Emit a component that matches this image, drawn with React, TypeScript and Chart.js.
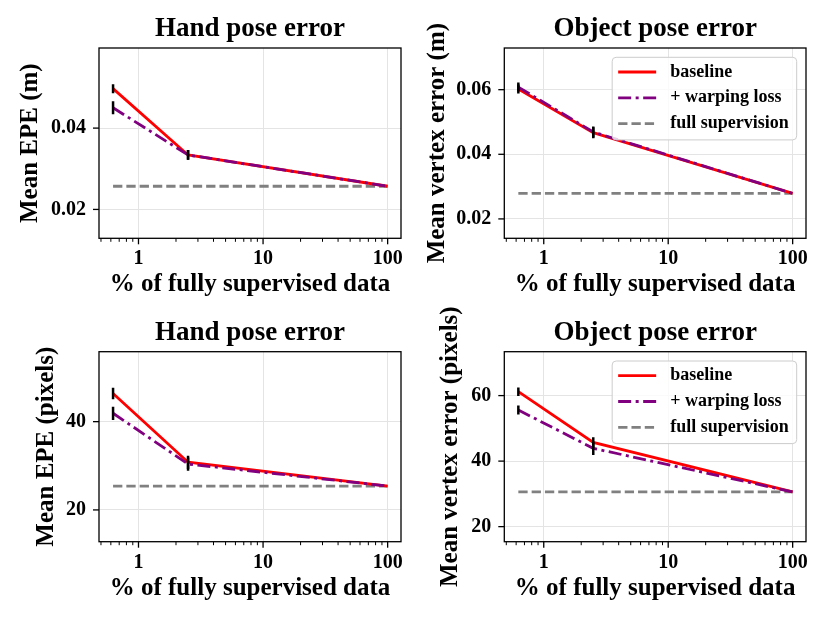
import { useEffect, useRef } from "react"
import { Chart, registerables } from "chart.js"

Chart.register(...registerables)

const FONT = '"Liberation Serif", "Times New Roman", serif'
Chart.defaults.font.family = FONT
Chart.defaults.font.weight = "bold"
Chart.defaults.color = "#000"

// x positions (% of fully supervised data) and log-axis ticks
const fractions = [0.625, 2.5, 100]
const fullRange = [0.625, 100]
const xMajorTicks = [1, 10, 100]
const xMinorTicks = [0.5, 0.6, 0.7, 0.8, 0.9, 2, 3, 4, 5, 6, 7, 8, 9, 20, 30, 40, 50, 60, 70, 80, 90]

// hand pose error (m)
const handMBaseline = [0.0497, 0.0334, 0.0257]
const handMWarping = [0.045, 0.0334, 0.0257]
const handMFull = 0.0257
const handMBaselineErr = [0.0011, 0.0012, 0]
const handMWarpingErr = [0.0016, 0.0012, 0]
const handMTicks = [0.02, 0.04]

// object pose error (m)
const objMBaseline = [0.0602, 0.0467, 0.0279]
const objMWarping = [0.0608, 0.0469, 0.0279]
const objMFull = 0.0279
const objMBaselineErr = [0.0014, 0.0017, 0]
const objMWarpingErr = [0.0014, 0.0017, 0]
const objMTicks = [0.02, 0.04, 0.06]

// hand pose error (pixels)
const handPxBaseline = [46.4, 30.8, 25.4]
const handPxWarping = [41.9, 30.4, 25.4]
const handPxFull = 25.4
const handPxBaselineErr = [1.3, 1.5, 0]
const handPxWarpingErr = [1.5, 1.5, 0]
const handPxTicks = [20, 40]

// object pose error (pixels)
const objPxBaseline = [61.2, 45.7, 30.6]
const objPxWarping = [55.6, 43.9, 30.6]
const objPxFull = 30.6
const objPxBaselineErr = [1.3, 1.6, 0]
const objPxWarpingErr = [1.4, 2.0, 0]
const objPxTicks = [20, 40, 60]

const X_MIN = 0.482
const X_MAX = 128

interface Panel {
  title: string
  yLabel: string
  baseline: number[]
  warping: number[]
  full: number
  baselineErr: number[]
  warpingErr: number[]
  yTicks: number[]
  yMin: number
  yMax: number
  decimals: number
  legend: boolean
  // canvas box and axes box, page coordinates
  left: number
  top: number
  width: number
  height: number
  area: { left: number; top: number; right: number; bottom: number }
  titleY: number
  yTitleX: number
}

const panels: Panel[] = [
  {
    title: "Hand pose error", yLabel: "Mean EPE (m)",
    baseline: handMBaseline, warping: handMWarping, full: handMFull,
    baselineErr: handMBaselineErr, warpingErr: handMWarpingErr,
    yTicks: handMTicks, yMin: 0.0129, yMax: 0.0597, decimals: 2, legend: false,
    left: 0, top: 0, width: 415, height: 305,
    area: { left: 99, top: 48, right: 401, bottom: 238.3 }, titleY: 29.3, yTitleX: 31,
  },
  {
    title: "Object pose error", yLabel: "Mean vertex error (m)",
    baseline: objMBaseline, warping: objMWarping, full: objMFull,
    baselineErr: objMBaselineErr, warpingErr: objMWarpingErr,
    yTicks: objMTicks, yMin: 0.014, yMax: 0.0729, decimals: 2, legend: true,
    left: 415, top: 0, width: 415, height: 305,
    area: { left: 504.3, top: 48, right: 806, bottom: 238.3 }, titleY: 29.3, yTitleX: 437.5,
  },
  {
    title: "Hand pose error", yLabel: "Mean EPE (pixels)",
    baseline: handPxBaseline, warping: handPxWarping, full: handPxFull,
    baselineErr: handPxBaselineErr, warpingErr: handPxWarpingErr,
    yTicks: handPxTicks, yMin: 12.8, yMax: 55.85, decimals: 0, legend: false,
    left: 0, top: 290, width: 415, height: 333,
    area: { left: 99, top: 351.7, right: 401, bottom: 541.7 }, titleY: 333, yTitleX: 47,
  },
  {
    title: "Object pose error", yLabel: "Mean vertex error (pixels)",
    baseline: objPxBaseline, warping: objPxWarping, full: objPxFull,
    baselineErr: objPxBaselineErr, warpingErr: objPxWarpingErr,
    yTicks: objPxTicks, yMin: 15.4, yMax: 73.4, decimals: 0, legend: true,
    left: 415, top: 290, width: 415, height: 333,
    area: { left: 504.3, top: 351.7, right: 806, bottom: 541.7 }, titleY: 333, yTitleX: 450.5,
  },
]

// frame round the axes and outward tick marks
const frameTicks = {
  id: "frameTicks",
  afterDraw(chart: Chart) {
    const { ctx, chartArea: a, scales } = chart
    ctx.save()
    ctx.strokeStyle = "#000"
    ctx.lineWidth = 1.3
    ctx.strokeRect(a.left, a.top, a.right - a.left, a.bottom - a.top)
    scales.x.ticks.forEach((t) => {
      const px = scales.x.getPixelForValue(t.value)
      const major = xMajorTicks.includes(t.value)
      ctx.lineWidth = major ? 1.3 : 1
      ctx.beginPath()
      ctx.moveTo(px, a.bottom)
      ctx.lineTo(px, a.bottom + (major ? 6 : 3.5))
      ctx.stroke()
    })
    ctx.lineWidth = 1.3
    scales.y.ticks.forEach((t) => {
      const py = scales.y.getPixelForValue(t.value)
      ctx.beginPath()
      ctx.moveTo(a.left - 6, py)
      ctx.lineTo(a.left, py)
      ctx.stroke()
    })
    ctx.restore()
  },
}

// title centred over the axes, as matplotlib does
const axesTitle = {
  id: "axesTitle",
  afterDraw(chart: Chart, _args: unknown, opts: { text?: string; y?: number }) {
    if (!opts.text) return
    const { ctx, chartArea: a } = chart
    ctx.save()
    ctx.font = `bold 27px ${FONT}`
    ctx.fillStyle = "#000"
    ctx.textAlign = "center"
    ctx.textBaseline = "middle"
    ctx.fillText(opts.text, (a.left + a.right) / 2, opts.y ?? 0)
    ctx.restore()
  },
}

// matplotlib-like legend box in the upper right of the axes
const boxLegend = {
  id: "boxLegend",
  afterDraw(chart: Chart, _args: unknown, opts: { show?: boolean }) {
    if (!opts.show) return
    const { ctx, chartArea: a } = chart
    const items = chart.data.datasets.filter((d) => d.label) as any[]
    ctx.save()
    ctx.font = `bold 18px ${FONT}`
    const textW = Math.max(...items.map((d) => ctx.measureText(d.label).width))
    const w = 6 + 38 + 14 + textW + 8
    const rowH = 25.8
    const h = 14.7 + rowH * (items.length - 1) + 16.3
    const x = a.right - 9.3 - w
    const y = a.top + 9.3
    ctx.beginPath()
    ctx.roundRect(x, y, w, h, 4)
    ctx.fillStyle = "rgba(255,255,255,0.8)"
    ctx.fill()
    ctx.strokeStyle = "#cccccc"
    ctx.lineWidth = 1
    ctx.stroke()
    items.forEach((d, i) => {
      const cy = y + 14.7 + i * rowH
      ctx.setLineDash(d.borderDash || [])
      ctx.strokeStyle = d.borderColor
      ctx.lineWidth = d.borderWidth
      ctx.beginPath()
      ctx.moveTo(x + 6, cy)
      ctx.lineTo(x + 44, cy)
      ctx.stroke()
      ctx.setLineDash([])
      ctx.fillStyle = "#000"
      ctx.textBaseline = "middle"
      ctx.fillText(d.label, x + 58, cy)
    })
    ctx.restore()
  },
}

function errorBars(values: number[], errs: number[]) {
  return fractions
    .map((x, i) => ({ x, y: values[i], e: errs[i] }))
    .filter((p) => p.e > 0)
    .map((p) => ({
      data: [
        { x: p.x, y: p.y - p.e },
        { x: p.x, y: p.y + p.e },
      ],
      borderColor: "#000",
      borderWidth: 2.5,
      pointRadius: 0,
      order: 0,
    }))
}

function PanelChart({ cfg }: { cfg: Panel }) {
  const canvasRef = useRef<HTMLCanvasElement>(null)

  useEffect(() => {
    const ctx = canvasRef.current?.getContext("2d")
    if (!ctx) return

    const area = {
      left: cfg.area.left - cfg.left,
      right: cfg.area.right - cfg.left,
      top: cfg.area.top - cfg.top,
      bottom: cfg.area.bottom - cfg.top,
    }
    const xTitleY = area.bottom + 46.5

    const chart = new Chart(ctx, {
      type: "line",
      data: {
        datasets: [
          {
            label: "baseline",
            data: fractions.map((x, i) => ({ x, y: cfg.baseline[i] })),
            borderColor: "#ff0000",
            borderWidth: 2.8,
            pointRadius: 0,
            order: 2,
          },
          {
            label: "+ warping loss",
            data: fractions.map((x, i) => ({ x, y: cfg.warping[i] })),
            borderColor: "#800080",
            borderWidth: 2.8,
            borderDash: [13, 4.5, 3, 4.5],
            pointRadius: 0,
            order: 1,
          },
          {
            label: "full supervision",
            data: fullRange.map((x) => ({ x, y: cfg.full })),
            borderColor: "#808080",
            borderWidth: 2.8,
            borderDash: [9.3, 4],
            pointRadius: 0,
            order: 3,
          },
          ...errorBars(cfg.baseline, cfg.baselineErr),
          ...errorBars(cfg.warping, cfg.warpingErr),
        ] as any,
      },
      options: {
        animation: false,
        responsive: false,
        events: [],
        layout: { padding: { left: 0, top: area.top, right: cfg.width - area.right, bottom: 0 } },
        plugins: {
          legend: { display: false },
          tooltip: { enabled: false },
          title: { display: false },
          axesTitle: { text: cfg.title, y: cfg.titleY - cfg.top },
          boxLegend: { show: cfg.legend },
        } as any,
        scales: {
          x: {
            type: "logarithmic",
            min: X_MIN,
            max: X_MAX,
            afterBuildTicks: (scale: any) => {
              scale.ticks = [...xMinorTicks, ...xMajorTicks]
                .sort((p, q) => p - q)
                .map((value) => ({ value, major: xMajorTicks.includes(value) }))
            },
            afterFit: (scale: any) => {
              scale.height = cfg.height - area.bottom
            },
            grid: {
              color: (c: any) => (xMajorTicks.includes(c.tick?.value) ? "#e4e4e4" : "rgba(0,0,0,0)"),
              lineWidth: 1,
              drawTicks: false,
            },
            border: { display: false },
            ticks: {
              autoSkip: false,
              maxRotation: 0,
              padding: 9,
              color: "#000",
              font: { size: 20, weight: "bold" },
              callback: (v: any) => (xMajorTicks.includes(Number(v)) ? String(v) : ""),
            },
            title: {
              display: true,
              text: "% of fully supervised data",
              color: "#000",
              font: { size: 25, weight: "bold" },
              padding: { top: 0, bottom: cfg.height - 15 - xTitleY },
            },
          },
          y: {
            type: "linear",
            min: cfg.yMin,
            max: cfg.yMax,
            afterBuildTicks: (scale: any) => {
              scale.ticks = cfg.yTicks.map((value) => ({ value }))
            },
            afterFit: (scale: any) => {
              scale.width = area.left
            },
            grid: { color: "#e4e4e4", lineWidth: 1, drawTicks: false },
            border: { display: false },
            ticks: {
              padding: 13,
              color: "#000",
              font: { size: 20, weight: "bold" },
              callback: (v: any) => Number(v).toFixed(cfg.decimals),
            },
            title: {
              display: true,
              text: cfg.yLabel,
              color: "#000",
              font: { size: 25, weight: "bold" },
              padding: { top: cfg.yTitleX - cfg.left - 15, bottom: 0 },
            },
          },
        },
      },
      plugins: [frameTicks, axesTitle, boxLegend],
    })

    return () => chart.destroy()
  }, [cfg])

  return (
    <canvas
      ref={canvasRef}
      width={cfg.width}
      height={cfg.height}
      style={{ position: "absolute", left: cfg.left, top: cfg.top, width: cfg.width, height: cfg.height }}
    />
  )
}

export default function App() {
  return (
    <div style={{ position: "absolute", left: 0, top: 0, width: 830, height: 623, background: "#fff" }}>
      {panels.map((p, i) => (
        <PanelChart key={i} cfg={p} />
      ))}
    </div>
  )
}
